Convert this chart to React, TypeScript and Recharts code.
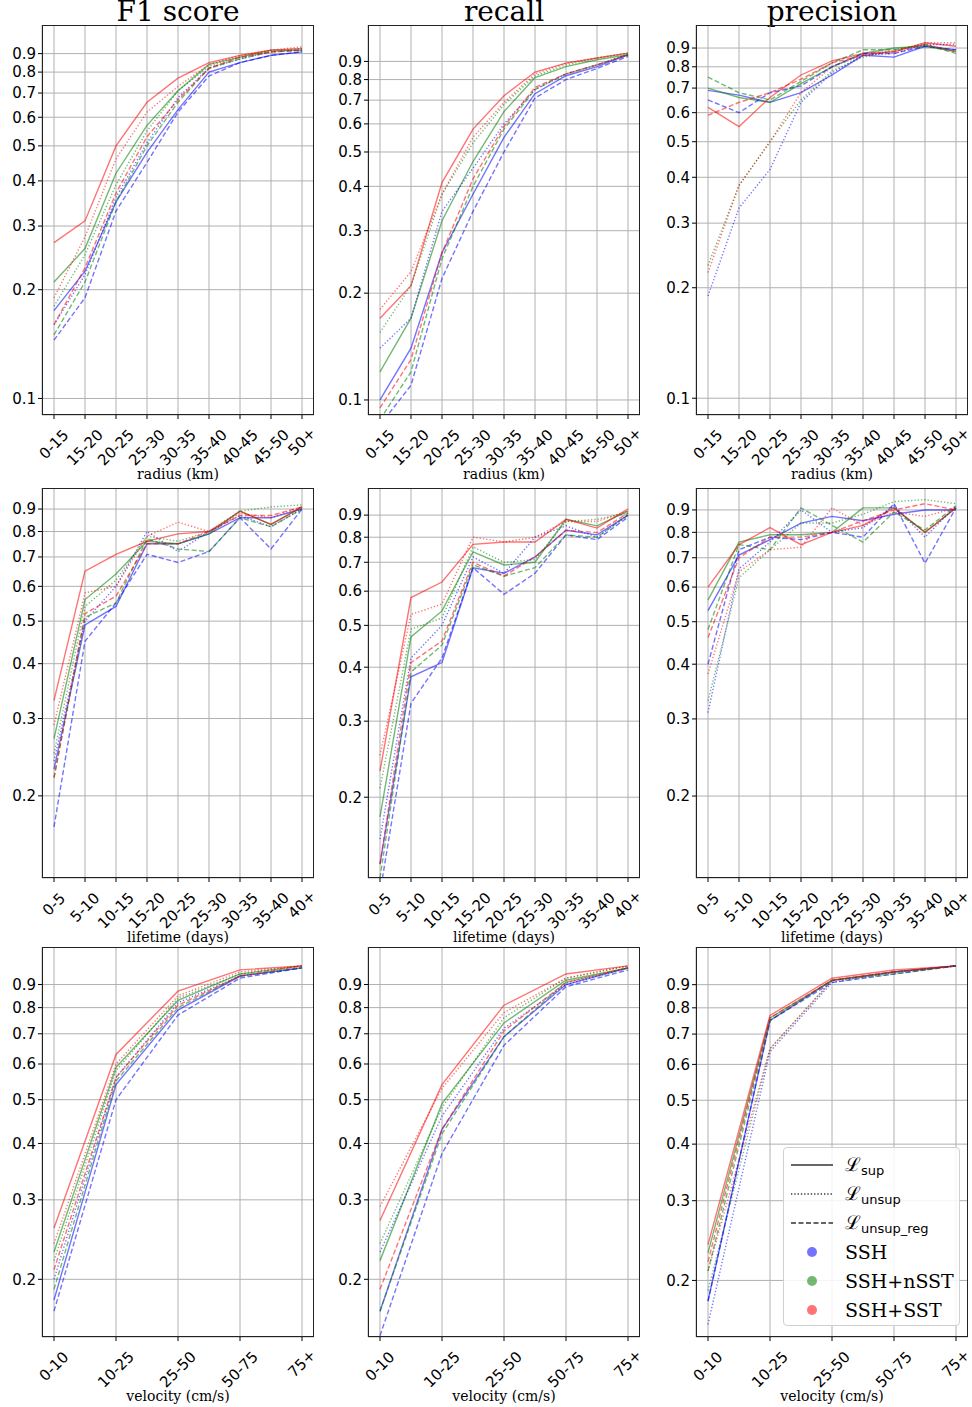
import React from "react";
import { CartesianGrid, Line, LineChart, XAxis, YAxis } from "recharts";

const radiusCats = ["0-15", "15-20", "20-25", "25-30", "30-35", "35-40", "40-45", "45-50", "50+"];
const lifetimeCats = ["0-5", "5-10", "10-15", "15-20", "20-25", "25-30", "30-35", "35-40", "40+"];
const velocityCats = ["0-10", "10-25", "25-50", "50-75", "75+"];

const allTicks = [0.1, 0.2, 0.3, 0.4, 0.5, 0.6, 0.7, 0.8, 0.9];

// order of each group: SSH, SSH+nSST, SSH+SST
// F1 / radius
const f1RadSup = [
  [0.175, 0.225, 0.35, 0.48, 0.63, 0.8, 0.85, 0.89, 0.91],
  [0.21, 0.26, 0.42, 0.57, 0.71, 0.84, 0.88, 0.92, 0.92],
  [0.27, 0.31, 0.5, 0.66, 0.77, 0.85, 0.89, 0.92, 0.93],
];
const f1RadUnsup = [
  [0.16, 0.22, 0.36, 0.51, 0.68, 0.82, 0.87, 0.91, 0.92],
  [0.18, 0.25, 0.39, 0.55, 0.71, 0.83, 0.88, 0.91, 0.93],
  [0.19, 0.28, 0.46, 0.62, 0.73, 0.84, 0.89, 0.92, 0.94],
];
const f1RadReg = [
  [0.145, 0.19, 0.33, 0.45, 0.62, 0.78, 0.85, 0.89, 0.91],
  [0.15, 0.21, 0.35, 0.5, 0.66, 0.82, 0.87, 0.91, 0.92],
  [0.16, 0.23, 0.37, 0.53, 0.67, 0.82, 0.88, 0.91, 0.92],
];
// recall / radius
const recRadSup = [
  [0.1, 0.14, 0.26, 0.38, 0.55, 0.73, 0.82, 0.87, 0.94],
  [0.12, 0.17, 0.32, 0.47, 0.65, 0.81, 0.87, 0.91, 0.94],
  [0.17, 0.21, 0.41, 0.58, 0.72, 0.84, 0.89, 0.92, 0.95],
];
const recRadUnsup = [
  [0.14, 0.17, 0.34, 0.45, 0.6, 0.75, 0.83, 0.88, 0.94],
  [0.155, 0.21, 0.38, 0.53, 0.68, 0.82, 0.88, 0.92, 0.95],
  [0.18, 0.23, 0.38, 0.55, 0.69, 0.83, 0.89, 0.92, 0.95],
];
const recRadReg = [
  [0.085, 0.11, 0.22, 0.34, 0.5, 0.71, 0.8, 0.86, 0.93],
  [0.088, 0.12, 0.25, 0.4, 0.58, 0.75, 0.83, 0.88, 0.94],
  [0.095, 0.13, 0.26, 0.42, 0.59, 0.76, 0.83, 0.88, 0.94],
];
// precision / radius
const preRadSup = [
  [0.69, 0.67, 0.64, 0.68, 0.76, 0.86, 0.85, 0.91, 0.89],
  [0.7, 0.66, 0.64, 0.72, 0.8, 0.87, 0.9, 0.91, 0.88],
  [0.62, 0.55, 0.66, 0.76, 0.83, 0.87, 0.88, 0.93, 0.91],
];
const preRadUnsup = [
  [0.19, 0.33, 0.42, 0.64, 0.77, 0.86, 0.87, 0.92, 0.92],
  [0.23, 0.38, 0.5, 0.65, 0.78, 0.85, 0.89, 0.92, 0.88],
  [0.22, 0.38, 0.5, 0.68, 0.8, 0.86, 0.88, 0.93, 0.93],
];
const preRadReg = [
  [0.65, 0.6, 0.68, 0.71, 0.8, 0.87, 0.87, 0.91, 0.89],
  [0.75, 0.68, 0.65, 0.73, 0.82, 0.89, 0.89, 0.92, 0.87],
  [0.59, 0.64, 0.68, 0.74, 0.82, 0.86, 0.88, 0.92, 0.88],
];
// F1 / lifetime
const f1LifeSup = [
  [0.23, 0.49, 0.54, 0.75, 0.75, 0.79, 0.86, 0.86, 0.9],
  [0.27, 0.56, 0.64, 0.76, 0.75, 0.79, 0.89, 0.83, 0.91],
  [0.33, 0.65, 0.71, 0.76, 0.79, 0.8, 0.89, 0.83, 0.91],
];
const f1LifeUnsup = [
  [0.24, 0.5, 0.6, 0.8, 0.72, 0.8, 0.87, 0.82, 0.9],
  [0.25, 0.54, 0.62, 0.78, 0.76, 0.8, 0.89, 0.91, 0.92],
  [0.29, 0.58, 0.6, 0.78, 0.84, 0.8, 0.88, 0.86, 0.91],
];
const f1LifeReg = [
  [0.17, 0.45, 0.55, 0.71, 0.68, 0.72, 0.86, 0.73, 0.9],
  [0.22, 0.51, 0.55, 0.77, 0.73, 0.72, 0.86, 0.82, 0.9],
  [0.22, 0.52, 0.57, 0.75, 0.75, 0.8, 0.87, 0.87, 0.91],
];
// recall / lifetime
const recLifeSup = [
  [0.14, 0.38, 0.41, 0.68, 0.66, 0.72, 0.83, 0.81, 0.9],
  [0.18, 0.47, 0.54, 0.74, 0.69, 0.7, 0.88, 0.85, 0.92],
  [0.23, 0.58, 0.63, 0.77, 0.78, 0.78, 0.88, 0.84, 0.93],
];
const recLifeUnsup = [
  [0.16, 0.42, 0.5, 0.72, 0.66, 0.8, 0.85, 0.8, 0.9],
  [0.21, 0.49, 0.52, 0.76, 0.7, 0.71, 0.87, 0.88, 0.91],
  [0.25, 0.53, 0.56, 0.8, 0.78, 0.8, 0.87, 0.87, 0.92],
];
const recLifeReg = [
  [0.12, 0.33, 0.42, 0.68, 0.59, 0.66, 0.81, 0.79, 0.89],
  [0.13, 0.39, 0.45, 0.69, 0.65, 0.68, 0.81, 0.8, 0.9],
  [0.14, 0.41, 0.46, 0.7, 0.65, 0.72, 0.83, 0.82, 0.91],
];
// precision / lifetime
const preLifeSup = [
  [0.53, 0.71, 0.77, 0.84, 0.87, 0.85, 0.88, 0.9, 0.9],
  [0.56, 0.76, 0.79, 0.79, 0.8, 0.91, 0.91, 0.8, 0.91],
  [0.6, 0.75, 0.82, 0.75, 0.8, 0.83, 0.91, 0.8, 0.91],
];
const preLifeUnsup = [
  [0.31, 0.66, 0.76, 0.9, 0.8, 0.82, 0.92, 0.78, 0.92],
  [0.33, 0.63, 0.73, 0.84, 0.84, 0.88, 0.94, 0.95, 0.93],
  [0.38, 0.65, 0.73, 0.74, 0.91, 0.83, 0.89, 0.87, 0.91],
];
const preLifeReg = [
  [0.4, 0.73, 0.78, 0.77, 0.8, 0.78, 0.93, 0.68, 0.91],
  [0.48, 0.75, 0.73, 0.91, 0.83, 0.76, 0.89, 0.81, 0.92],
  [0.46, 0.7, 0.78, 0.78, 0.8, 0.85, 0.9, 0.93, 0.9],
];
// F1 / velocity
const f1VelSup = [
  [0.18, 0.54, 0.79, 0.94, 0.98],
  [0.23, 0.59, 0.83, 0.95, 0.99],
  [0.26, 0.63, 0.87, 0.97, 0.99],
];
const f1VelUnsup = [
  [0.2, 0.56, 0.82, 0.94, 0.98],
  [0.22, 0.58, 0.84, 0.95, 0.99],
  [0.24, 0.6, 0.85, 0.96, 0.99],
];
const f1VelReg = [
  [0.17, 0.5, 0.77, 0.93, 0.98],
  [0.19, 0.55, 0.8, 0.94, 0.98],
  [0.21, 0.56, 0.81, 0.94, 0.99],
];
// recall / velocity
const recVelSup = [
  [0.17, 0.43, 0.69, 0.9, 0.98],
  [0.22, 0.49, 0.74, 0.92, 0.98],
  [0.27, 0.54, 0.81, 0.95, 0.99],
];
const recVelUnsup = [
  [0.23, 0.46, 0.72, 0.9, 0.98],
  [0.24, 0.48, 0.76, 0.93, 0.99],
  [0.29, 0.53, 0.78, 0.93, 0.99],
];
const recVelReg = [
  [0.15, 0.38, 0.66, 0.89, 0.97],
  [0.17, 0.42, 0.69, 0.91, 0.98],
  [0.19, 0.43, 0.71, 0.91, 0.98],
];
// precision / velocity
const preVelSup = [
  [0.18, 0.75, 0.92, 0.96, 0.99],
  [0.23, 0.76, 0.92, 0.96, 0.99],
  [0.24, 0.77, 0.93, 0.97, 0.99],
];
const preVelUnsup = [
  [0.16, 0.64, 0.91, 0.96, 0.99],
  [0.19, 0.65, 0.92, 0.96, 0.99],
  [0.21, 0.65, 0.92, 0.96, 0.99],
];
const preVelReg = [
  [0.18, 0.75, 0.91, 0.95, 0.99],
  [0.21, 0.75, 0.92, 0.95, 0.99],
  [0.22, 0.76, 0.92, 0.96, 0.99],
];

const colors = ["#0000ff", "#008000", "#ff0000"];
const styles = [
  { key: "sup", dash: undefined },
  { key: "unsup", dash: "1.3 2" },
  { key: "reg", dash: "5 2.5" },
];

const colLeft = [42, 368, 696];
const rowTop = [25, 488, 947];
const plotW = 272;
const plotH = 390;

function buildRows(cats: string[], sup: number[][], unsup: number[][], reg: number[][]) {
  return cats.map((c, i) => {
    const row: Record<string, any> = { cat: c };
    [sup, unsup, reg].forEach((grp, s) => {
      grp.forEach((vals, g) => {
        row[`${styles[s].key}${g}`] = vals[i];
      });
    });
    return row;
  });
}

function XTick(props: any) {
  const { x, y, payload } = props;
  const label = String(payload.value);
  const w = label.length * 8.6;
  const h = 15;
  const cy = y + 6 + ((w + h) * 0.707) / 2;
  return (
    <text
      x={x}
      y={cy}
      transform={`rotate(-45 ${x} ${cy})`}
      textAnchor="middle"
      dominantBaseline="central"
      fontFamily="DejaVu Sans"
      fontSize={15}
      fill="#000"
    >
      {label}
    </text>
  );
}

type PanelProps = {
  col: number;
  row: number;
  cats: string[];
  sup: number[][];
  unsup: number[][];
  reg: number[][];
  domain: [number, number];
  xlabel: string;
};

function Panel({ col, row, cats, sup, unsup, reg, domain, xlabel }: PanelProps) {
  const data = buildRows(cats, sup, unsup, reg);
  const ticks = allTicks.filter((t) => t >= domain[0] && t <= domain[1]);
  const left = colLeft[col];
  const top = rowTop[row];
  return (
    <>
      <div style={{ position: "absolute", left: left - 40, top }}>
        <LineChart width={plotW + 40} height={plotH + 70} data={data} margin={{ top: 0, right: 0, bottom: 0, left: 0 }}>
          <CartesianGrid stroke="#b0b0b0" strokeWidth={1} />
          <XAxis
            dataKey="cat"
            interval={0}
            padding={{ left: 12, right: 12 }}
            height={70}
            axisLine={false}
            tickLine={{ stroke: "#000" }}
            tickSize={4}
            tick={<XTick />}
          />
          <YAxis
            scale="log"
            type="number"
            domain={domain}
            allowDataOverflow
            ticks={ticks}
            interval={0}
            width={40}
            axisLine={false}
            tickLine={{ stroke: "#000" }}
            tickSize={4}
            tick={{ fill: "#000", fontSize: 15, fontFamily: "DejaVu Sans" }}
            tickFormatter={(v: number) => String(v)}
          />
          {styles.map((s) =>
            colors.map((c, g) => (
              <Line
                key={`${s.key}${g}`}
                dataKey={`${s.key}${g}`}
                type="linear"
                stroke={c}
                strokeOpacity={0.55}
                strokeWidth={1.4}
                strokeDasharray={s.dash}
                dot={false}
                activeDot={false}
                isAnimationActive={false}
              />
            ))
          )}
        </LineChart>
      </div>
      <div
        style={{
          position: "absolute",
          left,
          top,
          width: plotW,
          height: plotH,
          border: "1px solid #222",
          boxSizing: "border-box",
          pointerEvents: "none",
        }}
      />
      <div
        style={{
          position: "absolute",
          left,
          width: plotW,
          top: top + plotH + 51,
          textAlign: "center",
          fontFamily: "DejaVu Serif",
          fontSize: 14,
        }}
      >
        {xlabel}
      </div>
    </>
  );
}

const titles = ["F1 score", "recall", "precision"];

function LegendSample({ dash }: { dash?: string }) {
  return (
    <svg width={42} height={10}>
      <line x1={0} y1={5} x2={42} y2={5} stroke="#333" strokeWidth={1.3} strokeDasharray={dash} />
    </svg>
  );
}

function Legend() {
  const rowStyle: React.CSSProperties = { display: "flex", alignItems: "center", height: 29 };
  const label: React.CSSProperties = { marginLeft: 12, fontFamily: "DejaVu Serif", fontSize: 19 };
  const math: React.CSSProperties = { marginLeft: 12, fontSize: 19, fontFamily: "DejaVu Serif" };
  const sub: React.CSSProperties = { fontSize: 13, fontFamily: "DejaVu Sans", verticalAlign: -4 };
  const dot = (c: string) => (
    <div style={{ width: 42, display: "flex", justifyContent: "center" }}>
      <div style={{ width: 10, height: 10, borderRadius: 5, background: c, opacity: 0.55 }} />
    </div>
  );
  return (
    <div
      style={{
        position: "absolute",
        left: 783,
        top: 1147,
        width: 177,
        height: 179,
        boxSizing: "border-box",
        border: "1px solid #d0d0d0",
        borderRadius: 4,
        background: "rgba(255,255,255,0.85)",
        padding: "2px 0 0 7px",
      }}
    >
      <div style={rowStyle}>
        <LegendSample />
        <span style={math}>ℒ<span style={sub}>sup</span></span>
      </div>
      <div style={rowStyle}>
        <LegendSample dash="1.3 2" />
        <span style={math}>ℒ<span style={sub}>unsup</span></span>
      </div>
      <div style={rowStyle}>
        <LegendSample dash="5 2.5" />
        <span style={math}>ℒ<span style={sub}>unsup_reg</span></span>
      </div>
      <div style={rowStyle}>{dot("#0000ff")}<span style={label}>SSH</span></div>
      <div style={rowStyle}>{dot("#008000")}<span style={label}>SSH+nSST</span></div>
      <div style={rowStyle}>{dot("#ff0000")}<span style={label}>SSH+SST</span></div>
    </div>
  );
}

export default function App() {
  return (
    <div style={{ position: "absolute", left: 0, top: 0, width: 972, height: 1407, background: "#fff", overflow: "hidden" }}>
      {titles.map((t, i) => (
        <div
          key={t}
          style={{
            position: "absolute",
            left: colLeft[i],
            width: plotW,
            top: -5,
            lineHeight: "34px",
            textAlign: "center",
            fontFamily: "DejaVu Serif",
            fontSize: 28,
          }}
        >
          {t}
        </div>
      ))}
      <Panel col={0} row={0} cats={radiusCats} sup={f1RadSup} unsup={f1RadUnsup} reg={f1RadReg} domain={[0.09, 1.08]} xlabel="radius (km)" />
      <Panel col={1} row={0} cats={radiusCats} sup={recRadSup} unsup={recRadUnsup} reg={recRadReg} domain={[0.0907, 1.14]} xlabel="radius (km)" />
      <Panel col={2} row={0} cats={radiusCats} sup={preRadSup} unsup={preRadUnsup} reg={preRadReg} domain={[0.09, 1.04]} xlabel="radius (km)" />
      <Panel col={0} row={1} cats={lifetimeCats} sup={f1LifeSup} unsup={f1LifeUnsup} reg={f1LifeReg} domain={[0.13, 1.005]} xlabel="lifetime (days)" />
      <Panel col={1} row={1} cats={lifetimeCats} sup={recLifeSup} unsup={recLifeUnsup} reg={recLifeReg} domain={[0.13, 1.04]} xlabel="lifetime (days)" />
      <Panel col={2} row={1} cats={lifetimeCats} sup={preLifeSup} unsup={preLifeUnsup} reg={preLifeReg} domain={[0.13, 1.01]} xlabel="lifetime (days)" />
      <Panel col={0} row={2} cats={velocityCats} sup={f1VelSup} unsup={f1VelUnsup} reg={f1VelReg} domain={[0.149, 1.09]} xlabel="velocity (cm/s)" />
      <Panel col={1} row={2} cats={velocityCats} sup={recVelSup} unsup={recVelUnsup} reg={recVelReg} domain={[0.149, 1.09]} xlabel="velocity (cm/s)" />
      <Panel col={2} row={2} cats={velocityCats} sup={preVelSup} unsup={preVelUnsup} reg={preVelReg} domain={[0.15, 1.09]} xlabel="velocity (cm/s)" />
      <Legend />
    </div>
  );
}
